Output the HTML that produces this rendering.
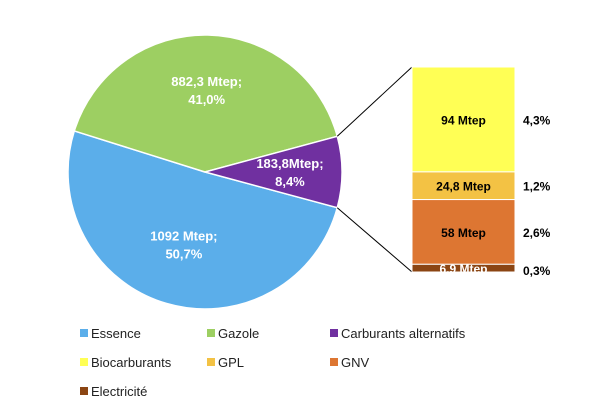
<!DOCTYPE html>
<html><head><meta charset="utf-8"><style>
body{margin:0;background:#fff;}
svg text{font-family:"Liberation Sans",sans-serif;}
</style></head><body>
<svg id="c" width="601" height="408" xmlns="http://www.w3.org/2000/svg"></svg>
<script>
const pieCats=["Essence","Gazole","Carburants alternatifs"];
const pieVals=[50.7,41.0,8.4];
const pieLabels=["1092 Mtep;|50,7%","882,3 Mtep;|41,0%","183,8Mtep;|8,4%"];
const barCats=["Biocarburants","GPL","GNV","Electricité"];
const barVals=[94,24.8,58,6.9];
const barPcts=["4,3%","1,2%","2,6%","0,3%"];
const legendCats=["Essence","Gazole","Carburants alternatifs","Biocarburants","GPL","GNV","Electricité"];
const pieColors=["#5BAEEA","#9DCF62","#7030A0"];
const barColors=["#FFFF55","#F3C244","#DD7632","#8B4513"];
const legendColors=pieColors.concat(barColors);
const NS="http://www.w3.org/2000/svg";
const svg=document.getElementById('c');
function mk(t,a){const e=document.createElementNS(NS,t);for(const k in a)e.setAttribute(k,a[k]);svg.appendChild(e);return e;}
const cx=205,cy=172,r=137;
const tot=pieVals.reduce((a,b)=>a+b,0);
// purple centred at angle 0 (right); order counterclockwise from purple end
const purpleHalf=pieVals[2]/tot*Math.PI;
let angs={};
// purple: -half..+half ; gazole: from -half going counterclockwise ; essence rest
let start=-purpleHalf; // screen angle, negative=up
const gz=pieVals[1]/tot*2*Math.PI;
angs[2]=[-purpleHalf,purpleHalf];
angs[1]=[-purpleHalf-gz,-purpleHalf];
angs[0]=[purpleHalf,2*Math.PI-purpleHalf-gz];
const lblPos=[[0,0.55],[0,0.6],[0,0.62]];
for(let i=0;i<3;i++){
  const [a0,a1]=angs[i];
  const x0=cx+r*Math.cos(a0),y0=cy+r*Math.sin(a0),x1=cx+r*Math.cos(a1),y1=cy+r*Math.sin(a1);
  const large=(a1-a0)>Math.PI?1:0;
  const p=mk('path',{d:`M${cx},${cy}L${x0},${y0}A${r},${r} 0 ${large} 1 ${x1},${y1}Z`,fill:pieColors[i],stroke:'#fff','stroke-width':1.5});
  
  
  const m=(a0+a1)/2,f=lblPos[i][1];
  const lx=cx+r*f*Math.cos(m),ly=cy+r*f*Math.sin(m);
  const parts=pieLabels[i].split('|');
  parts.forEach((s,j)=>{const t=mk('text',{x:lx,y:ly-4+j*18,'text-anchor':'middle',fill:'#fff','font-size':13,'font-weight':'bold'});t.textContent=s;
    });
}
// bar
const bx=412,bw=103,btop=67,bh=205;
const bt=barVals.reduce((a,b)=>a+b,0);
let y=btop;
const px0=cx+r*Math.cos(-purpleHalf),py0=cy+r*Math.sin(-purpleHalf),px1=cx+r*Math.cos(purpleHalf),py1=cy+r*Math.sin(purpleHalf);
let l1=mk('line',{x1:px0,y1:py0,x2:bx,y2:btop,stroke:'#000','stroke-width':1});

let l2=mk('line',{x1:px1,y1:py1,x2:bx,y2:btop+bh,stroke:'#000','stroke-width':1});

for(let i=0;i<barVals.length;i++){
  const h=barVals[i]/bt*bh;
  const rc=mk('rect',{x:bx,y:y,width:bw,height:h,fill:barColors[i],stroke:'#fff','stroke-width':1});
  
  const ty=i===3?y+h+1:y+h/2+5;
  const t=mk('text',{x:bx+bw/2,y:ty,'text-anchor':'middle',fill:i===3?'#fff':'#000','font-size':12,'font-weight':'bold'});
  t.textContent=String(barVals[i]).replace('.',',')+' Mtep';
  
  const p=mk('text',{x:523,y:i===3?y+h+3:y+h/2+5,fill:'#000','font-size':12,'font-weight':'bold'});
  p.textContent=barPcts[i];
  
  y+=h;
}
// legend
const lx=[80,207,330];
legendCats.forEach((c,i)=>{
  const col=i%3,row=Math.floor(i/3);
  const x=lx[col],yy=334+row*29;
  const s=mk('rect',{x:x,y:yy-5,width:8,height:8,fill:legendColors[i]});
  
  const t=mk('text',{x:x+11,y:yy+4,fill:'#222','font-size':13});t.textContent=c;
  
});
</script>
</body></html>
